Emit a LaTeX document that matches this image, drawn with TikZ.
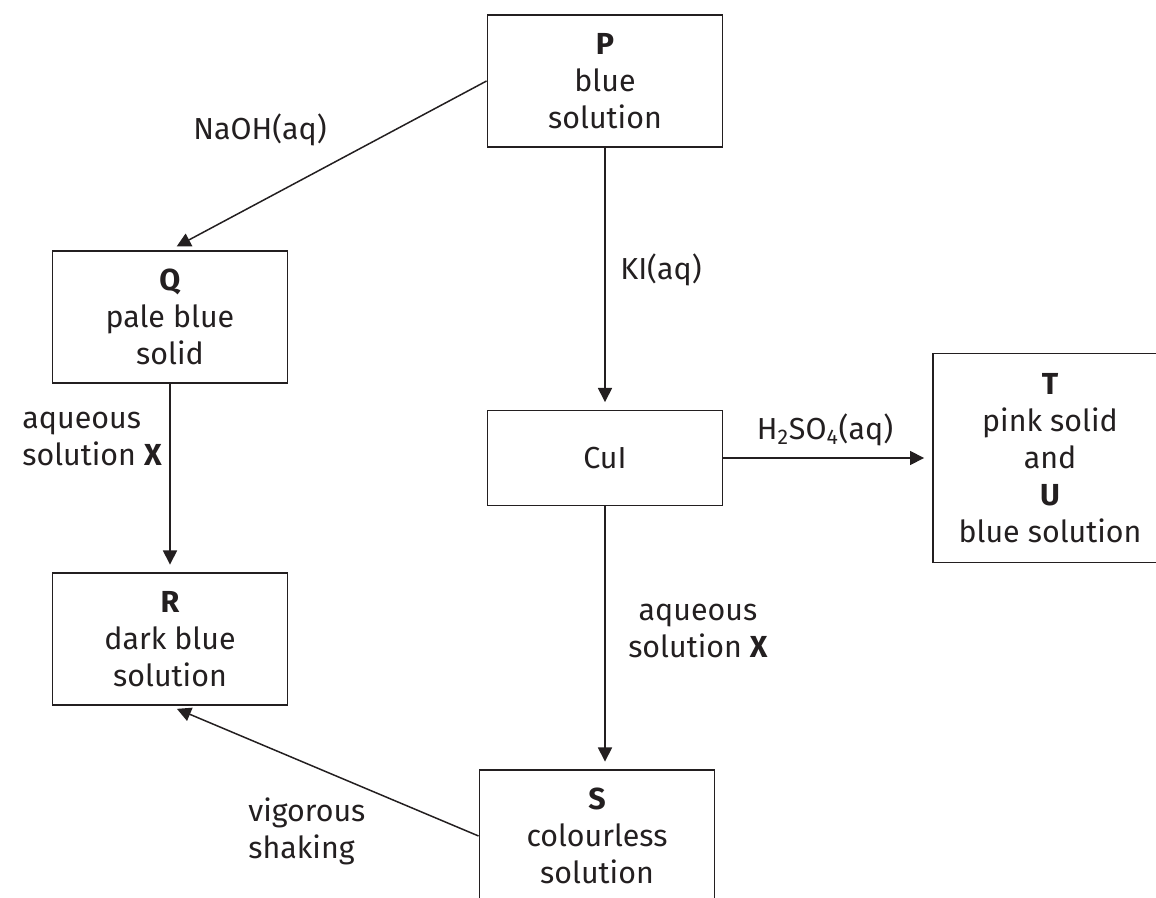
\documentclass[tikz,border=0pt]{standalone}
\usepackage{fontspec}
\setmainfont{Fira Sans}
\usetikzlibrary{arrows.meta}
\definecolor{ink}{HTML}{231F20}
\tikzset{
  box/.style={draw=ink, line width=1.1pt, minimum width=4.7cm, minimum height=2.64cm,
    align=center, inner sep=0pt, text=ink},
  arr/.style={->, draw=ink, line width=0.85pt, shorten >=0.15cm},
  lbl/.style={text=ink, inner sep=0pt}
}
\begin{document}
\begin{tikzpicture}[x=0.02cm, y=-0.02cm, >={Triangle[length=8pt,width=8pt]},
  font=\fontsize{17.3}{21}\selectfont]
  \useasboundingbox (0,0) rectangle (1156,898);
  % boxes
  \node[box] (P) at (605,81) {\textbf{P}\\blue\\solution};
  \node[box] (Q) at (170,317) {\textbf{Q}\\pale blue\\solid};
  \node[box] (R) at (170,639) {\textbf{R}\\dark blue\\solution};
  \node[box, minimum height=1.9cm] (CuI) at (605,458) {CuI};
  \node[box, minimum height=4.18cm] (T) at (1050,458) {\textbf{T}\\pink solid\\and\\\textbf{U}\\blue solution};
  \node[box] (S) at (597,836) {\textbf{S}\\colourless\\solution};
  % arrows
  \draw[arr] (P.west) -- (Q.north);
  \draw[arr] (Q.south) -- (R.north);
  \draw[arr] (P.south) -- (CuI.north);
  \draw[arr] (CuI.east) -- (T.west);
  \draw[arr] (CuI.south) -- (CuI.south |- S.north);
  \draw[arr] (S.west) -- (R.south);
  % reagents
  \node[lbl] (naoh) at (260,130) {NaOH(aq)};
  \node[lbl, anchor=west] (ki) at (620,270) {KI(aq)};
  \node[lbl, anchor=west, align=left] (xq) at (22,439) {aqueous\\solution \textbf{X}};
  \node[lbl] (acid) at (825,430) {H\textsubscript{2}SO\textsubscript{4}(aq)};
  \node[lbl, align=center] (xs) at (698,631) {aqueous\\solution \textbf{X}};
  \node[lbl, anchor=west, align=left] (shake) at (248,831) {vigorous\\shaking};
\end{tikzpicture}
\end{document}
